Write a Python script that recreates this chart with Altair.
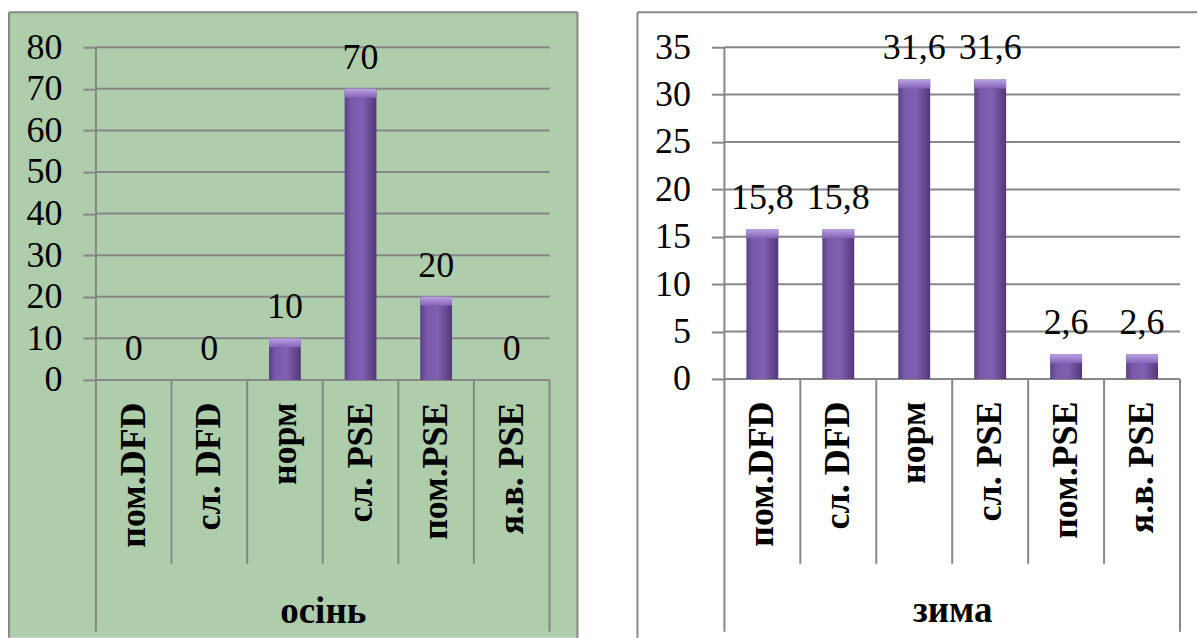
import altair as alt
import pandas as pd

# Categories and percentages for the two seasons
categories = ["пом.DFD", "сл. DFD", "норм", "сл. PSE", "пом.PSE", "я.в. PSE"]
autumn_values = [0, 0, 10, 70, 20, 0]
winter_values = [15.8, 15.8, 31.6, 31.6, 2.6, 2.6]
autumn_ticks = [0, 10, 20, 30, 40, 50, 60, 70, 80]
winter_ticks = [0, 5, 10, 15, 20, 25, 30, 35]
autumn_title = "осінь"
winter_title = "зима"

FONT = "Liberation Serif"
LINE = "#878787"

bar_fill = alt.Gradient(
    gradient="linear", x1=0, x2=1, y1=0, y2=0,
    stops=[
        alt.GradientStop(offset=0, color="#5a3f84"),
        alt.GradientStop(offset=0.2, color="#7a59aa"),
        alt.GradientStop(offset=0.55, color="#8060b1"),
        alt.GradientStop(offset=1, color="#533878"),
    ],
)
# lighter bevel on the top edge of each bar
cap_fill = alt.Gradient(
    gradient="linear", x1=0, x2=0, y1=0, y2=1,
    stops=[
        alt.GradientStop(offset=0, color="#b9a2e4"),
        alt.GradientStop(offset=1, color="#8262b4"),
    ],
)


def panel(values, ticks, title, W, H, bg, right_ext, right_border):
    df = pd.DataFrame({
        "cat": categories,
        "value": values,
        "label": [f"{v:g}".replace(".", ",") for v in values],
    })
    one = pd.DataFrame({"k": [0]})
    y_scale = alt.Scale(domain=[0, max(ticks)], nice=False, zero=True)
    x_scale = alt.Scale(paddingInner=0, paddingOuter=0)

    x_axis = alt.Axis(
        domain=False, ticks=False, grid=False,
        labelAngle=-90, labelAlign="right", labelBaseline="middle",
        labelFont=FONT, labelFontSize=36, labelFontWeight="bold",
        labelColor="black", labelPadding=22, labelLimit=400,
        title=title, titleFont=FONT, titleFontSize=37,
        titleFontWeight="bold", titleColor="black",
        titleX=W / 2, titleY=243, titleAlign="center",
        titleBaseline="alphabetic", zindex=1,
    )
    y_axis = alt.Axis(
        values=ticks, grid=False, domain=False,
        tickColor=LINE, tickWidth=2, tickSize=13,
        labelFont=FONT, labelFontSize=36, labelColor="black",
        labelPadding=21, labelFlush=False, labelOverlap=False,
        title=None, zindex=1,
    )

    def xcat(**kw):
        return alt.X("cat:N", sort=categories, scale=x_scale, axis=x_axis, **kw)

    def yval(field):
        return alt.Y(field, scale=y_scale, axis=y_axis)

    background = alt.Chart(one).mark_rect(fill=bg).encode(
        x=alt.value(-87), x2=alt.value(W + right_ext),
        y=alt.value(-35), y2=alt.value(591),
    )
    top_border = alt.Chart(one).mark_rule(color=LINE, strokeWidth=2).encode(
        x=alt.value(-87), x2=alt.value(W + right_ext), y=alt.value(-35)
    )
    left_border = alt.Chart(one).mark_rule(color=LINE, strokeWidth=2).encode(
        x=alt.value(-87), y=alt.value(-35), y2=alt.value(591)
    )
    layers = [background, top_border, left_border]
    if right_border:
        layers.append(
            alt.Chart(one).mark_rule(color=LINE, strokeWidth=2).encode(
                x=alt.value(W + right_ext), y=alt.value(-35), y2=alt.value(591)
            )
        )

    grid = alt.Chart(pd.DataFrame({"value": ticks})).mark_rule(
        color=LINE, strokeWidth=2
    ).encode(
        y=yval("value:Q"),
        x=alt.value(0), x2=alt.value(W),
    )

    separators = alt.Chart(pd.DataFrame({"cat": categories[1:]})).mark_rule(
        color=LINE, strokeWidth=2
    ).encode(
        x=xcat(bandPosition=0),
        y=alt.value(H), y2=alt.value(517),
    )
    outer_left = alt.Chart(one).mark_rule(color=LINE, strokeWidth=2).encode(
        x=alt.value(0), y=alt.value(0), y2=alt.value(585)
    )
    outer_right = alt.Chart(one).mark_rule(color=LINE, strokeWidth=2).encode(
        x=alt.value(W), y=alt.value(H), y2=alt.value(585)
    )

    bars = alt.Chart(df).mark_bar(
        width=alt.RelativeBandSize(0.42), fill=bar_fill
    ).encode(
        x=xcat(),
        y=yval("value:Q"),
    )

    caps = alt.Chart(df).transform_filter("datum.value > 0").mark_bar(
        width=alt.RelativeBandSize(0.42), fill=cap_fill, y2Offset=9
    ).encode(
        x=xcat(),
        y=yval("value:Q"),
        y2="value:Q",
    )

    labels = alt.Chart(df).mark_text(
        font=FONT, fontSize=36, color="black", baseline="alphabetic", dy=-20
    ).encode(
        x=xcat(),
        y=yval("value:Q"),
        text="label:N",
    )

    layers += [grid, separators, outer_left, outer_right, bars, caps, labels]
    return alt.layer(*layers).properties(width=W, height=H)


left = panel(autumn_values, autumn_ticks, autumn_title, 454, 333, "#adcdab", 28, True)
right = panel(winter_values, winter_ticks, winter_title, 456, 332, "#ffffff", 17, False)

chart = alt.hconcat(left, right, spacing=58).properties(
    padding={"left": 8, "top": 11, "right": 0, "bottom": 0},
    background="white",
).configure_view(stroke=None)

chart.save("out.html", embed_options={"renderer": "svg", "actions": False})
